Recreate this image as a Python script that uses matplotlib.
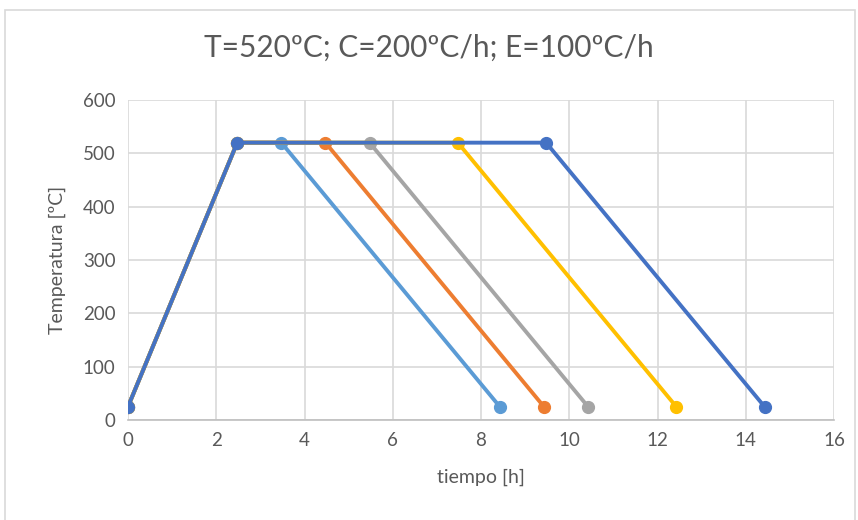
import matplotlib.pyplot as plt
from matplotlib.patches import Rectangle

plt.rcParams['font.family'] = ['Lato', 'DejaVu Sans']

# temperature profile points (time [h], temperature [ºC])
temps = [25, 520, 520, 25]
t_1h = [0, 2.475, 3.475, 8.425]
t_2h = [0, 2.475, 4.475, 9.425]
t_3h = [0, 2.475, 5.475, 10.425]
t_5h = [0, 2.475, 7.475, 12.425]
t_7h = [0, 2.475, 9.475, 14.425]

series = [
    (t_1h, "#5B9BD5"),
    (t_2h, "#ED7D31"),
    (t_3h, "#A5A5A5"),
    (t_5h, "#FFC000"),
    (t_7h, "#4472C4"),
]

fig = plt.figure(figsize=(8.58, 5.2), dpi=100)
fig.patches.append(Rectangle((5/858, -0.05), 850/858, 1.05 - 10/520, transform=fig.transFigure,
                             fill=False, edgecolor="#D9D9D9", linewidth=1.2))
ax = fig.add_axes([128/858, 1 - 420/520, 706/858, 320/520])

for t, c in series:
    ax.plot(t, temps, color=c, linewidth=2.8, marker="o", markersize=8.5, zorder=3)

ax.set_xlim(0, 16)
ax.set_ylim(0, 600)
ax.set_xticks(range(0, 17, 2))
ax.set_yticks(range(0, 601, 100))
ax.grid(True, color="#D9D9D9", linewidth=1.2)
ax.set_axisbelow(True)
for s in ["top", "right", "left"]:
    ax.spines[s].set_visible(False)
ax.spines["bottom"].set_color("#BFBFBF")
ax.spines["bottom"].set_linewidth(1.2)
ax.tick_params(length=0, labelsize=13.5, labelcolor="#595959", pad=9)

ax.set_xlabel("tiempo [h]", fontsize=14, color="#595959", labelpad=14)
ax.set_ylabel("Temperatura [ºC]", fontsize=14, color="#595959", labelpad=12)
fig.text(0.5, 1 - 48/520, "T=520ºC; C=200ºC/h; E=100ºC/h", ha="center", va="center",
         fontsize=21.5, color="#595959")

fig.savefig("out.png", dpi=100)
